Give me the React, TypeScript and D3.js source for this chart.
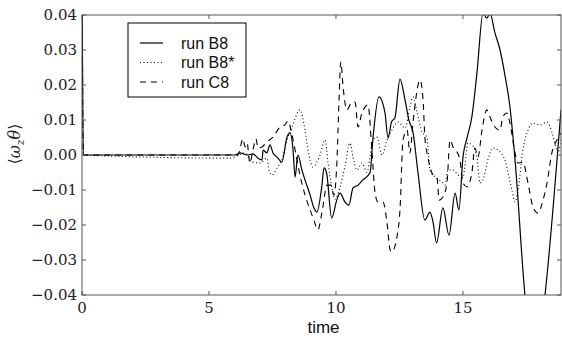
import React from "react";
import * as d3 from "d3";

// ---- data ----
const xTicks = [0, 5, 10, 15];
const yTicks = [0.04, 0.03, 0.02, 0.01, 0.0, -0.01, -0.02, -0.03, -0.04];
const seriesNames = ["run B8", "run B8*", "run C8"];

const timeB8 = [0, 0.05, 6.02, 6.22, 6.5, 6.73, 6.93, 7.09, 7.13, 7.28, 7.4, 7.52, 7.68, 7.87, 8.07, 8.19, 8.31, 8.39, 8.5, 8.66, 8.78, 8.98, 9.13, 9.25, 9.44, 9.53, 9.63, 9.83, 10.03, 10.16, 10.35, 10.51, 10.67, 10.87, 11.06, 11.34, 11.46, 11.69, 11.93, 12.05, 12.19, 12.32, 12.52, 12.72, 12.87, 13.03, 13.23, 13.5, 13.7, 13.82, 13.96, 14.21, 14.45, 14.69, 14.84, 15.0, 15.16, 15.35, 15.55, 15.79, 15.94, 16.06, 16.26, 16.46, 16.65, 16.85, 17.05, 17.44, 17.83, 18.23, 18.86];
const valB8 = [0.06, 0, 0, 0.0006, 0, 0.0003, -0.0009, -0.0014, 0.0014, 0.0006, 0.0029, 0.0006, -0.0006, -0.002, 0.0051, 0.0063, 0.0014, -0.0063, 0, -0.0043, -0.0071, -0.0114, -0.0151, -0.0163, -0.0091, -0.0037, -0.0051, -0.018, -0.0129, -0.0109, -0.0134, -0.0143, -0.0094, -0.0086, -0.0071, -0.0051, 0.0051, 0.0166, 0.012, 0.0049, 0.0095, 0.0106, 0.0217, 0.0157, 0.01, 0.0066, -0.0051, -0.0186, -0.0163, -0.0191, -0.0251, -0.0151, -0.0229, -0.0109, -0.0157, -0.0006, 0.0049, 0.0109, 0.0234, 0.0405, 0.0391, 0.0405, 0.0349, 0.03, 0.0229, 0.0137, -0.0014, -0.04, -0.062, -0.04, 0.0129];

const timeB8s = [0, 0.05, 5.83, 6.42, 6.69, 7.01, 7.28, 7.36, 7.48, 7.68, 7.87, 8.07, 8.27, 8.58, 8.78, 8.9, 9.09, 9.37, 9.57, 9.69, 9.84, 9.96, 10.16, 10.35, 10.55, 10.67, 10.83, 11.02, 11.22, 11.34, 11.46, 11.61, 11.81, 12.01, 12.2, 12.44, 12.72, 12.91, 13.03, 13.19, 13.39, 13.58, 13.7, 13.9, 14.17, 14.29, 14.41, 14.61, 14.8, 15.0, 15.2, 15.35, 15.55, 15.67, 15.79, 15.98, 16.18, 16.38, 16.65, 16.93, 17.05, 17.17, 17.36, 17.56, 17.76, 18.03, 18.31, 18.5, 18.62, 18.74, 18.86];
const valB8s = [0.06, 0, -0.0009, 0.0006, -0.002, -0.0023, -0.0009, -0.0043, -0.0057, -0.0037, -0.0014, 0.0043, 0.008, 0.0129, 0.0071, 0.0014, -0.0034, 0, 0.0043, -0.0023, -0.0094, -0.0126, -0.0091, -0.0034, 0.0034, -0.0006, -0.0043, -0.0023, -0.0049, -0.0006, 0.0043, 0.0051, 0, 0.0043, 0.0071, 0.0094, 0.0077, 0.0137, 0.0166, 0.0123, 0.0066, 0.0051, -0.0043, -0.0063, -0.0077, -0.0086, -0.0043, -0.0043, -0.0057, -0.0063, 0.0034, 0.0029, -0.0006, -0.008, -0.0071, -0.0014, 0.002, 0.0014, -0.0014, -0.01, -0.0134, -0.01, 0.0014, 0.0071, 0.0091, 0.0086, 0.0094, 0.0066, 0.0034, 0.0006, 0.0043];

const timeC8 = [0, 0.05, 6.14, 6.34, 6.42, 6.5, 6.61, 6.73, 6.85, 6.93, 7.09, 7.28, 7.52, 7.8, 7.99, 8.11, 8.27, 8.43, 8.58, 8.78, 8.98, 9.13, 9.29, 9.45, 9.65, 9.8, 9.92, 10.04, 10.12, 10.19, 10.28, 10.43, 10.63, 10.75, 10.87, 11.02, 11.14, 11.26, 11.42, 11.54, 11.65, 11.85, 12.01, 12.13, 12.2, 12.4, 12.52, 12.64, 12.8, 12.91, 13.03, 13.31, 13.43, 13.5, 13.62, 13.82, 13.98, 14.06, 14.21, 14.37, 14.49, 14.61, 14.76, 14.88, 15.0, 15.16, 15.35, 15.47, 15.59, 15.75, 15.94, 16.06, 16.26, 16.46, 16.57, 16.73, 16.85, 17.05, 17.17, 17.36, 17.56, 17.76, 17.95, 18.15, 18.31, 18.5, 18.7, 18.86];
const valC8 = [0.06, 0, 0, 0.0046, 0.0023, 0.0034, -0.0023, 0.0014, 0.0046, 0.002, 0.0023, 0.0037, 0.0051, 0.008, 0.0086, 0.0097, 0.0057, 0, -0.0057, -0.0114, -0.0157, -0.0186, -0.0214, -0.0163, -0.0086, -0.0086, -0.0114, -0.0014, 0.0157, 0.0266, 0.0194, 0.0129, 0.0151, 0.0151, 0.008, 0.012, 0.0137, 0.0143, 0.0006, -0.0109, -0.0134, -0.0134, -0.0194, -0.0271, -0.0277, -0.0234, -0.0157, 0.0043, 0.0071, 0.0006, 0.0091, 0.0214, 0.0157, 0.0051, -0.0006, -0.0057, -0.0066, -0.0129, -0.012, -0.008, 0.0043, 0.0023, 0.0009, -0.0014, -0.008, -0.0091, -0.0051, 0.002, -0.0006, 0.0071, 0.0129, 0.0109, 0.008, 0.0071, 0.0109, 0.012, 0.0091, 0.0006, -0.0023, -0.002, -0.008, -0.0149, -0.0166, -0.0129, -0.008, 0.0006, 0.0043, 0.0063];

const W = 562;
const H = 343;
const L = 82, R = 561, T = 15, B = 295;

export default function App() {
  const x = d3.scaleLinear().domain([0, 18.86]).range([L, R]);
  const y = d3.scaleLinear().domain([-0.04, 0.04]).range([B, T]);
  const line = d3
    .line<[number, number]>()
    .x((d) => x(d[0]))
    .y((d) => y(d[1]))
    .curve(d3.curveMonotoneX);

  const zip = (t: number[], v: number[]) => t.map((ti, i) => [ti, v[i]] as [number, number]);
  const series = [
    { name: seriesNames[0], data: zip(timeB8, valB8), dash: "none", w: 1.2 },
    { name: seriesNames[1], data: zip(timeB8s, valB8s), dash: "1,2.5", w: 1.1 },
    { name: seriesNames[2], data: zip(timeC8, valC8), dash: "6,5", w: 1.1 },
  ];
  const axisColor = "#555";
  const serif = "'DejaVu Serif', 'Liberation Serif', serif";
  const sans = "'Liberation Sans', Arial, sans-serif";

  return (
    <svg
      width={W}
      height={H}
      style={{ position: "absolute", left: 0, top: 0, background: "#fff" }}
    >
      <defs>
        <clipPath id="plot">
          <rect x={L} y={T} width={R - L} height={B - T} />
        </clipPath>
      </defs>
      <rect x={0} y={0} width={W} height={H} fill="#fff" />
      <g clipPath="url(#plot)">
        {series.map((s) => (
          <path
            key={s.name}
            d={line(s.data) || ""}
            fill="none"
            stroke="#000"
            strokeWidth={s.w}
            strokeDasharray={s.dash}
          />
        ))}
      </g>
      {/* frame */}
      <rect x={L} y={T} width={R - L} height={B - T} fill="none" stroke={axisColor} strokeWidth={1} />
      {/* x ticks */}
      {xTicks.map((t) => (
        <g key={"x" + t}>
          <line x1={x(t)} x2={x(t)} y1={B} y2={B - 4} stroke={axisColor} />
          <line x1={x(t)} x2={x(t)} y1={T} y2={T + 4} stroke={axisColor} />
          <text
            x={x(t)}
            y={313}
            textAnchor="middle"
            fontFamily={serif}
            fontSize={15}
            fill="#222"
          >
            {t}
          </text>
        </g>
      ))}
      {/* y ticks */}
      {yTicks.map((v) => (
        <g key={"y" + v}>
          <line x1={L} x2={L + 4} y1={y(v)} y2={y(v)} stroke={axisColor} />
          <line x1={R} x2={R - 4} y1={y(v)} y2={y(v)} stroke={axisColor} />
          <text
            x={77}
            y={y(v)}
            dy="0.36em"
            textAnchor="end"
            fontFamily={serif}
            fontSize={15}
            fill="#222"
          >
            {(v < 0 ? "\u2212" : "") + Math.abs(v).toFixed(2)}
          </text>
        </g>
      ))}
      {/* axis labels */}
      <text x={(L + R) / 2 + 2} y={333} textAnchor="middle" fontFamily={sans} fontSize={17} fill="#111">
        time
      </text>
      <text
        transform={`translate(20, 144) rotate(-90)`}
        textAnchor="middle"
        fontFamily={serif}
        fontSize={16}
        fill="#222"
      >
        <tspan>{"\u27E8"}</tspan>
        <tspan fontStyle="italic">{"\u03C9"}</tspan>
        <tspan fontStyle="italic" fontSize={11} dy={4}>z</tspan>
        <tspan fontStyle="italic" dy={-4}>{"\u03B8"}</tspan>
        <tspan>{"\u27E9"}</tspan>
      </text>
      {/* legend */}
      <rect x={128} y={23} width={118} height={74} fill="#fff" stroke="#000" strokeWidth={1} />
      {series.map((s, i) => {
        const cy = 43 + i * 19.5;
        return (
          <g key={"lg" + s.name}>
            <line
              x1={140}
              x2={163}
              y1={cy}
              y2={cy}
              stroke="#000"
              strokeWidth={s.w}
              strokeDasharray={s.dash}
            />
            <text x={181} y={cy} dy="0.36em" fontFamily={sans} fontSize={16} fill="#111">
              {s.name}
            </text>
          </g>
        );
      })}
    </svg>
  );
}
